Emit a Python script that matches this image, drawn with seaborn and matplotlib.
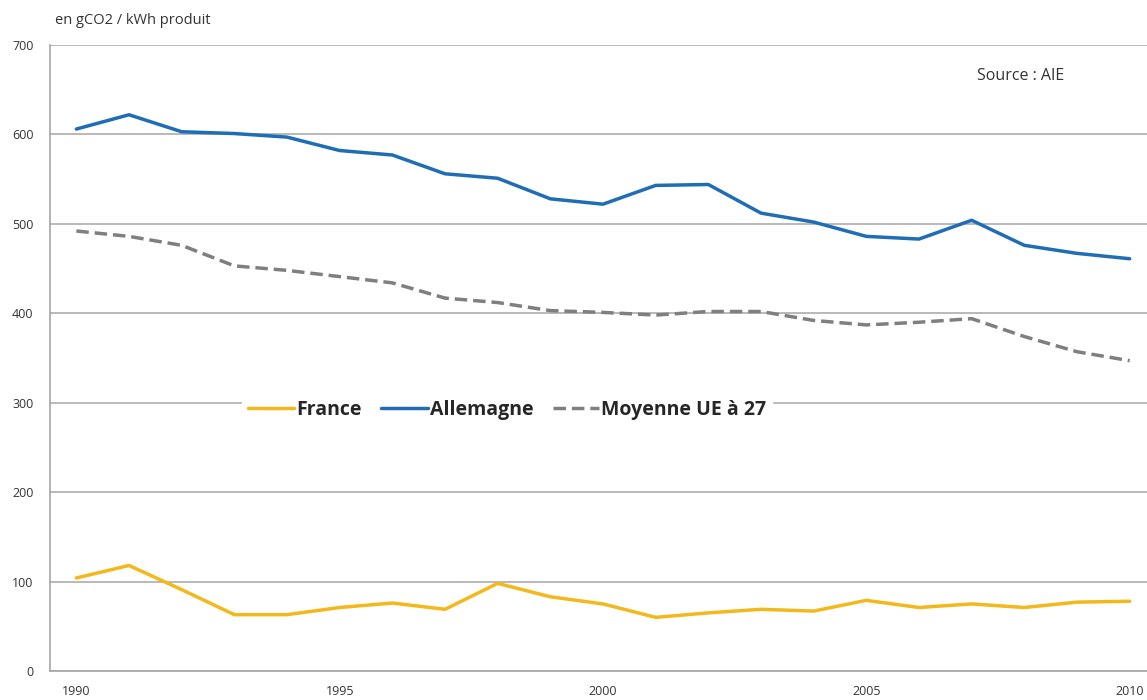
import numpy as np
import pandas as pd
import matplotlib
matplotlib.use("Agg")
import matplotlib.pyplot as plt
import seaborn as sns

# -------------------------
# data (gCO2 / kWh)
# -------------------------
years = list(range(1990, 2011))
france = [104, 118, 91, 63, 63, 71, 76, 69, 98, 83, 75, 60, 65, 69, 67, 79, 71, 75, 71, 77, 78]
allemagne = [606, 622, 603, 601, 597, 582, 577, 556, 551, 528, 522, 543, 544, 512, 502, 486, 483, 504, 476, 467, 461]
moyenne_ue = [492, 486, 476, 453, 448, 441, 434, 417, 412, 403, 401, 398, 402, 402, 392, 387, 390, 394, 374, 357, 347]

series_names = ["France", "Allemagne", "Moyenne UE à 27"]
colors = ["#F2B81C", "#1F6DB5", "#7F7F7F"]

df = pd.DataFrame({
    "year": years * 3,
    "value": france + allemagne + moyenne_ue,
    "serie": [series_names[0]] * len(years) + [series_names[1]] * len(years) + [series_names[2]] * len(years),
})

sns.set_style("white")
plt.rcParams["font.family"] = ["Open Sans", "DejaVu Sans"]

fig = plt.figure(figsize=(11.47, 7.0), dpi=100)
# right edge runs past the image, like the cropped original
ax = fig.add_axes([50 / 1147, 29 / 700, 1106 / 1147, 626 / 700])

sns.lineplot(
    data=df, x="year", y="value", hue="serie", style="serie",
    palette=dict(zip(series_names, colors)),
    dashes={series_names[0]: "", series_names[1]: "", series_names[2]: (3.6, 1.7)},
    linewidth=2.5, ax=ax, legend=True,
)

ax.set_xlim(1989.5, 2010.5)
ax.set_ylim(0, 700)
ax.set_yticks(range(0, 701, 100))
ax.yaxis.grid(True, color="#a6a6a6", linewidth=1.1)
ax.set_axisbelow(True)

ax.set_xticks([1990, 1995, 2000, 2005, 2010])
ax.set_xticks(np.arange(1990.5, 2010.5, 1), minor=True)
ax.tick_params(axis="x", which="major", length=0, pad=10, labelsize=9, labelcolor="#333333")
ax.tick_params(axis="x", which="minor", length=6, direction="inout", color="#a6a6a6", width=1)
ax.tick_params(axis="y", length=0, pad=12, labelsize=9, labelcolor="#333333")

for side in ["top", "right"]:
    ax.spines[side].set_visible(False)
for side in ["left", "bottom"]:
    ax.spines[side].set_color("#a6a6a6")
    ax.spines[side].set_linewidth(1.2)

ax.set_xlabel("")
ax.set_ylabel("")

# legend in the middle of the plot, white box over the 300 gridline
handles, labels = ax.get_legend_handles_labels()
leg = ax.legend(
    handles, labels, loc="center", bbox_to_anchor=(507 / 1147, 1 - 410 / 700),
    bbox_transform=fig.transFigure, ncol=3, frameon=True,
    handlelength=2.4, handletextpad=0.1, columnspacing=1.0, borderpad=0.3,
    prop={"weight": "bold", "size": 14},
)
leg.get_frame().set_facecolor("white")
leg.get_frame().set_edgecolor("white")
leg.get_frame().set_alpha(1)

fig.text(55 / 1147, 1 - 20 / 700, "en gCO2 / kWh produit", fontsize=10.5, color="#333333", va="center")
ax.text(0.878, 0.95, "Source : AIE", transform=ax.transAxes, fontsize=11.5, color="#333333", ha="center", va="center")

fig.savefig("out.png", dpi=100)
